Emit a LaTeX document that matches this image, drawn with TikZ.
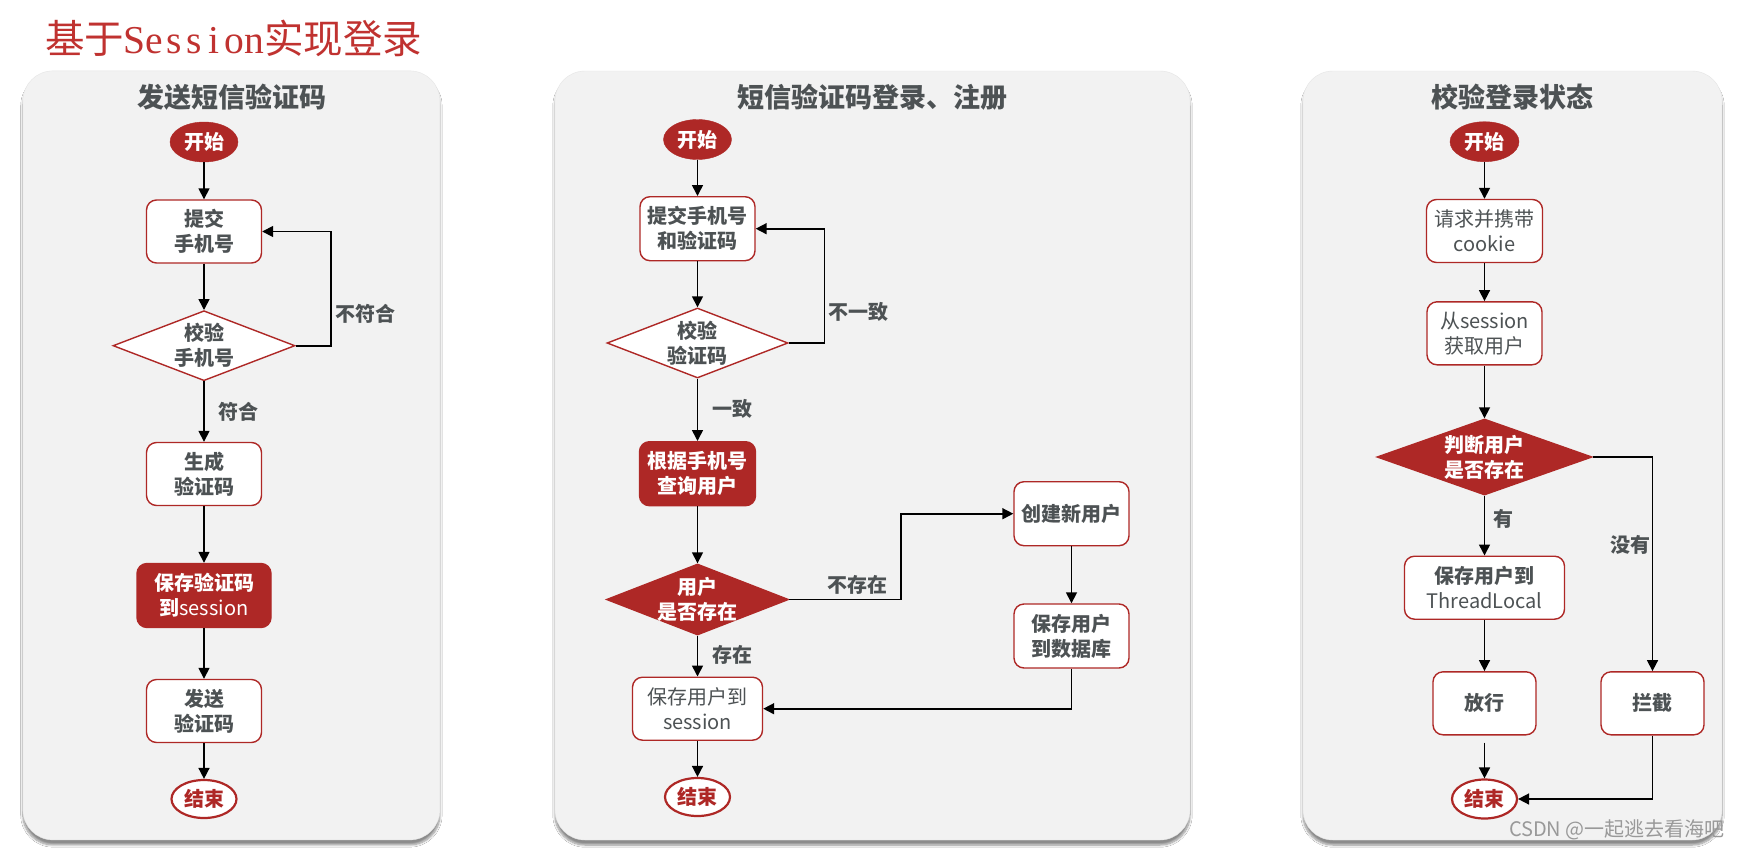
\documentclass[tikz,border=0pt]{standalone}
\usepackage{fontspec}
\usetikzlibrary{shapes.geometric,arrows.meta,shadows.blur}
\setmainfont{Noto Sans CJK SC}
\newfontfamily\serlat{Liberation Serif}
\IfFontExistsTF{FandolSong-Regular.otf}{\newfontfamily\ttlcjk{FandolSong-Regular.otf}}{\newfontfamily\ttlcjk{Noto Sans CJK SC}}
\definecolor{myred}{RGB}{174,40,38}
\definecolor{ttlred}{RGB}{192,50,48}
\definecolor{txtgray}{RGB}{77,82,84}
\definecolor{panelbg}{RGB}{242,242,242}
\newcommand{\bx}{\fontsize{20}{25}\selectfont\bfseries}
\newcommand{\rg}{\fontsize{20}{25}\selectfont\mdseries}
\newcommand{\hw}[1]{\makebox[20pt][c]{#1}}
\begin{document}
\begin{tikzpicture}[x=1pt,y=-1pt,
  panel/.style={fill=panelbg, draw=black!10, rounded corners=30pt, inner sep=0pt,
    blur shadow={shadow xshift=0pt, shadow yshift=-5pt, shadow blur steps=8, shadow opacity=45}},
  ptitle/.style={text=txtgray, font=\fontsize{27}{30}\selectfont\bfseries, inner sep=0pt},
  box/.style={draw=myred, line width=1.4pt, fill=white, rounded corners=10pt,
    minimum width=115pt, minimum height=63pt, inner sep=0pt, align=center, font=\bx, text=txtgray},
  rbox/.style={box, fill=myred, text=white},
  startn/.style={ellipse, fill=myred, draw=myred, minimum width=68pt, minimum height=40pt,
    inner sep=0pt, text=white, font=\bx},
  endn/.style={ellipse, fill=white, draw=myred, line width=2.2pt, minimum width=65pt,
    minimum height=38pt, inner sep=0pt, text=myred, font=\bx},
  dia/.style={diamond, draw=myred, line width=1.4pt, fill=white, inner sep=0pt,
    minimum width=182pt, minimum height=70pt},
  rdia/.style={dia, fill=myred},
  lbl/.style={text=txtgray, font=\bx, inner sep=0pt, align=center},
  wlbl/.style={lbl, text=white},
  arr/.style={-{Triangle[length=11pt,width=11pt]}, line width=1.6pt, black}
]
\useasboundingbox (0,0) rectangle (1740,849);
\fill[white] (0,0) rectangle (1740,849);

% panels
\node[panel, minimum width=417pt, minimum height=769pt] (p1) at (231.4,455.4) {};
\node[panel, minimum width=635pt, minimum height=769pt] (p2) at (872.5,455.5) {};
\node[panel, minimum width=419pt, minimum height=769pt] (p3) at (1512.5,455.5) {};

% main title
\node[anchor=west, inner sep=0pt, text=ttlred, font=\fontsize{39.5}{42}\selectfont] (title) at (45,38)
  {{\ttlcjk 基于}{\serlat\hw{S}\hw{e}\hw{s}\hw{s}\hw{i}\hw{o}\hw{n}}{\ttlcjk 实现登录}};

% panel titles
\node[ptitle] (t1) at (231.5,97) {发送短信验证码};
\node[ptitle] (t2) at (872,97) {短信验证码登录、注册};
\node[ptitle] (t3) at (1512,97) {校验登录状态};

% ---------- panel 1 ----------
\node[startn] (s1) at (204,142) {开始};
\node[box] (b11) at (204,231.5) {提交\\手机号};
\node[dia] (d1) at (204,345.7) {};
\node[lbl] (d1t) at (d1) {校验\\手机号};
\node[box] (b12) at (204,474) {生成\\验证码};
\node[rbox, minimum width=134pt, minimum height=64pt] (b13) at (204,595.5) {保存验证码\\到{\mdseries session}};
\node[box] (b14) at (204,711) {发送\\验证码};
\node[endn] (e1) at (204,799) {结束};
\node[lbl] (n1) at (365,314) {不符合};
\node[lbl] (y1) at (238,412) {符合};
\coordinate (l1) at (331,300);
\draw[arr] (s1) -- (b11);
\draw[arr] (b11) -- (d1.north);
\draw[arr] (d1.east) -| (l1) |- (b11.east);
\draw[arr] (d1.south) -- (b12);
\draw[arr] (b12) -- (b13);
\draw[arr] (b13) -- (b14);
\draw[arr] (b14) -- (e1);

% ---------- panel 2 ----------
\node[startn] (s2) at (697.5,139.5) {开始};
\node[box, minimum height=64pt] (b21) at (697.5,228.7) {提交手机号\\和验证码};
\node[dia, minimum width=181pt] (d2) at (697.5,343) {};
\node[lbl] (d2t) at (d2) {校验\\验证码};
\node[lbl] (n2) at (858,312) {不一致};
\node[lbl] (y2) at (732,409) {一致};
\node[rbox, minimum width=116pt, minimum height=64pt] (b22) at (697.5,473.7) {根据手机号\\查询用户};
\node[rdia, minimum height=71pt] (d3) at (697.5,599.5) {};
\node[wlbl] (d3t) at (d3) {用户\\是否存在};
\node[lbl] (n3) at (857,585) {不存在};
\node[box, minimum height=64pt] (b23) at (1071.5,513.7) {创建新用户};
\node[box, minimum height=64pt] (b24) at (1071.5,636) {保存用户\\到数据库};
\node[lbl] (y3) at (732,655) {存在};
\node[box, minimum width=130pt, font=\rg] (b25) at (697.5,708.7) {保存用户到\\session};
\node[endn] (e2) at (697.5,797) {结束};
\coordinate (l2) at (824.5,300);
\coordinate (l3) at (900.7,560);
\draw[arr] (s2) -- (b21);
\draw[arr] (b21) -- (d2.north);
\draw[arr] (d2.east) -| (l2) |- (b21.east);
\draw[arr] (d2.south) -- (b22);
\draw[arr] (b22) -- (d3.north);
\draw[arr] (d3.east) -| (l3) |- (b23.west);
\draw[arr] (b23) -- (b24);
\draw[arr] (d3.south) -- (b25);
\draw[arr] (b24.south) |- (b25.east);
\draw[arr] (b25) -- (e2);

% ---------- panel 3 ----------
\node[startn, minimum width=69pt] (s3) at (1484.5,141.7) {开始};
\node[box, minimum width=116pt, font=\rg] (b31) at (1484.5,231) {请求并携带\\cookie};
\node[box, font=\rg] (b32) at (1484.5,333.3) {从session\\获取用户};
\node[rdia, minimum width=215pt, minimum height=76pt] (d4) at (1484.5,457) {};
\node[wlbl] (d4t) at (d4) {判断用户\\是否存在};
\node[lbl] (y4) at (1503,519) {有};
\node[lbl] (n4) at (1630,545) {没有};
\node[box, minimum width=160pt] (b33) at (1484.5,587.7) {保存用户到\\{\mdseries ThreadLocal}};
\node[box, minimum width=103pt] (b34) at (1484.5,703.3) {放行};
\node[box, minimum width=103pt] (b35) at (1652.5,703.3) {拦截};
\node[endn, minimum height=39pt] (e3) at (1484.5,799) {结束};
\draw[arr] (s3) -- (b31);
\draw[arr] (b31) -- (b32);
\draw[arr] (b32) -- (d4.north);
\draw[arr] (d4.south) -- (b33);
\draw[arr] (b33) -- (b34);
\draw[arr, shorten <=7pt] (b34) -- (e3);
\draw[arr] (d4.east) -| (b35.north);
\draw[arr] (b35.south) |- (e3.east);

% watermark
\node[anchor=east, inner sep=0pt, text=black!40, font=\fontsize{20}{24}\selectfont] (wm) at (1725,830) {CSDN @一起逃去看海吧};
\end{tikzpicture}
\end{document}
